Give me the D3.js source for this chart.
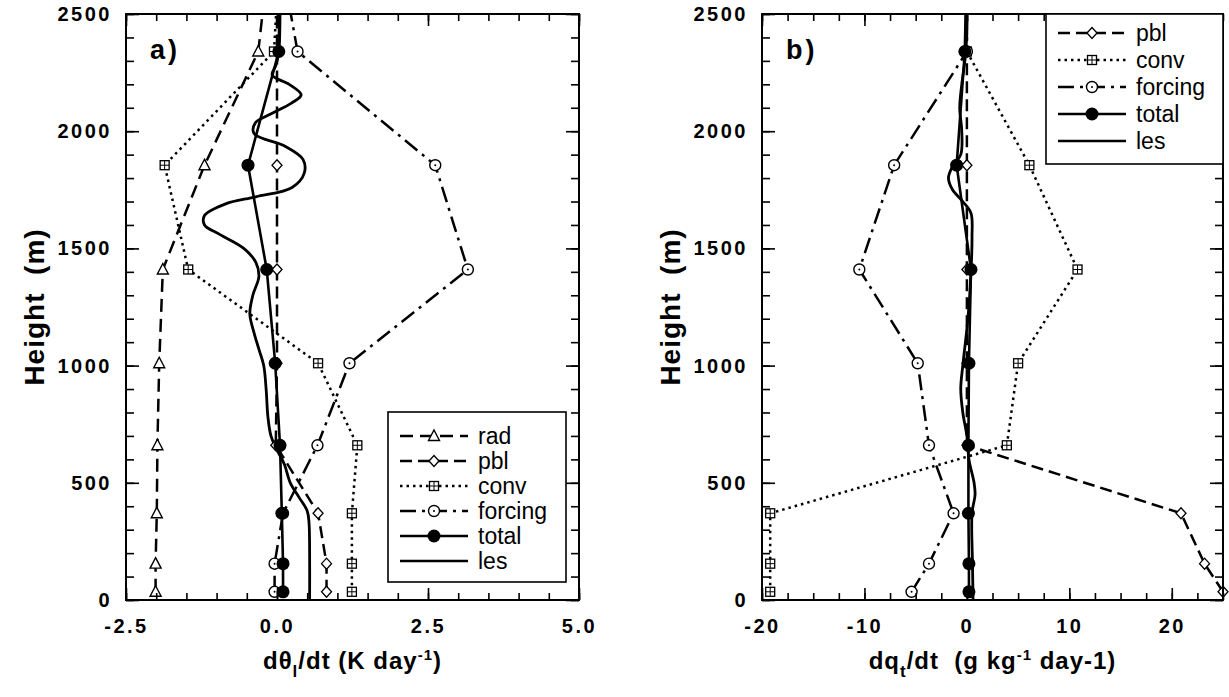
<!DOCTYPE html>
<html>
<head>
<meta charset="utf-8">
<script src="https://cdn.jsdelivr.net/npm/d3@7"></script>
<style>
    body { margin: 0; background: #fff; }
    svg { font-family: "Liberation Sans", Arial, sans-serif; }
</style>
</head>
<body>
<svg id="chart" width="1229" height="697"></svg>
<script>
// model levels (m) where markers sit; the last one is above the plot top so lines run off the frame
const levels = [35, 155, 370, 660, 1010, 1410, 1855, 2340, 2800]

// panel a: dθl/dt (K day-1)
const radA = [-2.01, -2.01, -1.99, -1.98, -1.95, -1.89, -1.20, -0.31, -0.11]
const pblA = [0.82, 0.82, 0.68, -0.02, 0.0, 0.0, 0.0, 0.0, 0.0]
const convA = [1.24, 1.24, 1.24, 1.33, 0.68, -1.47, -1.86, -0.05, 0.05]
const forcingA = [-0.04, -0.04, 0.10, 0.67, 1.20, 3.16, 2.62, 0.34, 0.02]
const totalA = [0.10, 0.10, 0.08, 0.05, -0.03, -0.17, -0.48, 0.03, 0.05]

const lesHeightsA = [0, 200, 330, 380, 440, 500, 580, 650, 700, 780, 900, 1000, 1070, 1140, 1220, 1300, 1380, 1440, 1500, 1560, 1600, 1640, 1690, 1720, 1760, 1820, 1880, 1935, 1990, 2035, 2070, 2120, 2155, 2200, 2240, 2280, 2340, 2500, 2800]
const lesA = [0.54, 0.54, 0.53, 0.50, 0.36, 0.22, 0.12, -0.02, -0.10, -0.15, -0.18, -0.22, -0.30, -0.38, -0.45, -0.40, -0.30, -0.35, -0.55, -0.95, -1.20, -1.20, -0.85, -0.35, 0.25, 0.45, 0.43, 0.14, -0.38, -0.36, -0.13, 0.24, 0.40, 0.20, -0.08, -0.02, 0.03, 0.05, 0.05]

// panel b: dqt/dt (g kg-1 day-1)
const pblB = [25.0, 23.2, 20.9, 0.0, 0.0, 0.0, 0.0, 0.0, 0.0]
const convB = [-19.2, -19.2, -19.2, 3.9, 5.0, 10.8, 6.1, 0.0, 0.0]
const forcingB = [-5.4, -3.7, -1.3, -3.7, -4.8, -10.5, -7.1, 0.0, 0.0]
const totalB = [0.2, 0.2, 0.15, 0.15, 0.2, 0.4, -1.0, -0.2, 0.0]

const lesHeightsB = [0, 150, 370, 450, 500, 600, 700, 800, 900, 1000, 1200, 1400, 1550, 1650, 1700, 1750, 1800, 1850, 1900, 2000, 2100, 2200, 2340, 2500, 2800]
const lesB = [0.6, 0.55, 0.5, 0.8, 0.7, 0.2, 0.0, -0.4, -0.6, -0.4, 0.1, 0.4, 0.5, 0.4, -0.4, -1.4, -1.8, -1.4, -0.6, -0.5, -0.7, -0.5, -0.1, 0.0, 0.0]

// axis ticks
const yMajor = [0, 500, 1000, 1500, 2000, 2500]
const yMinor = d3.range(0, 2501, 100)
const xMajorA = [-2.5, 0, 2.5, 5]
const xMinorA = d3.range(-2.5, 5.01, 0.5)
const xMajorB = [-20, -10, 0, 10, 20]
const xMinorB = d3.range(-20, 25.01, 2.5)

const styles = {
    rad: { dash: "13,7", marker: "triangle" },
    pbl: { dash: "12,6", marker: "diamond" },
    conv: { dash: "2.5,4", marker: "square" },
    forcing: { dash: "16,6,3,6", marker: "circle" },
    total: { dash: null, marker: "dot" },
    les: { dash: null, marker: null }
}

const svg = d3.select("#chart")

// plain hyphen for negatives, like the original figure
function hyphen(fmt) {
    return d => fmt(d).replace("\u2212", "-")
}

function drawMarker(g, type, cx, cy) {
    if (type === "triangle") {
        g.append("path").attr("d", `M${cx},${cy - 6}L${cx + 5.5},${cy + 4.5}L${cx - 5.5},${cy + 4.5}Z`)
            .attr("fill", "#fff").attr("stroke", "#000").attr("stroke-width", 1.4)
    } else if (type === "diamond") {
        g.append("path").attr("d", `M${cx},${cy - 5.5}L${cx + 5},${cy}L${cx},${cy + 5.5}L${cx - 5},${cy}Z`)
            .attr("fill", "#fff").attr("stroke", "#000").attr("stroke-width", 1.3)
    } else if (type === "square") {
        g.append("rect").attr("x", cx - 4.5).attr("y", cy - 4.5).attr("width", 9).attr("height", 9)
            .attr("fill", "#fff").attr("stroke", "#000").attr("stroke-width", 1.3)
        g.append("path").attr("d", `M${cx - 4.5},${cy}H${cx + 4.5}M${cx},${cy - 4.5}V${cy + 4.5}`)
            .attr("stroke", "#000").attr("stroke-width", 1)
    } else if (type === "circle") {
        g.append("circle").attr("cx", cx).attr("cy", cy).attr("r", 5.5)
            .attr("fill", "#fff").attr("stroke", "#000").attr("stroke-width", 1.4)
        g.append("circle").attr("cx", cx).attr("cy", cy).attr("r", 1).attr("fill", "#000")
    } else if (type === "dot") {
        g.append("circle").attr("cx", cx).attr("cy", cy).attr("r", 6.5).attr("fill", "#000")
    }
}

function drawPanel(p) {
    const x = d3.scaleLinear().domain(p.xDomain).range([p.left, p.right])
    const y = d3.scaleLinear().domain([0, 2500]).range([p.bottom, p.top])
    const w = p.right - p.left, h = p.bottom - p.top

    svg.append("clipPath").attr("id", p.id + "clip")
        .append("rect").attr("x", p.left - 12).attr("y", p.top).attr("width", w + 24).attr("height", h + 12)

    const plot = svg.append("g").attr("clip-path", `url(#${p.id}clip)`)
    const line = d3.line().x(d => x(d[0])).y(d => y(d[1]))

    // les first, smooth curve with no markers
    plot.append("path")
        .datum(p.lesValues.map((v, i) => [v, p.lesHeights[i]]))
        .attr("d", line.curve(d3.curveCatmullRom.alpha(0.5)))
        .attr("fill", "none").attr("stroke", "#000").attr("stroke-width", 2.8)

    p.series.forEach(s => {
        const pts = s.values.map((v, i) => [v, levels[i]])
        plot.append("path")
            .datum(pts)
            .attr("d", d3.line().x(d => x(d[0])).y(d => y(d[1]))(pts))
            .attr("fill", "none").attr("stroke", "#000")
            .attr("stroke-width", s.key === "total" ? 2.6 : 2.5)
            .attr("stroke-dasharray", styles[s.key].dash)
    })
    p.series.forEach(s => {
        s.values.forEach((v, i) => drawMarker(plot, styles[s.key].marker, x(v), y(levels[i])))
    })

    // axes, ticks pointing inward on all four sides
    const axes = svg.append("g").attr("class", "axes")
    axes.append("g").attr("transform", `translate(0,${p.bottom})`)
        .call(d3.axisBottom(x).tickValues(p.xMinor).tickSize(-7).tickFormat(""))
    axes.append("g").attr("transform", `translate(0,${p.bottom})`)
        .call(d3.axisBottom(x).tickValues(p.xMajor).tickSize(-12).tickPadding(19).tickFormat(hyphen(p.xFormat)))
    axes.append("g").attr("transform", `translate(0,${p.top})`)
        .call(d3.axisTop(x).tickValues(p.xMinor).tickSize(-7).tickFormat(""))
    axes.append("g").attr("transform", `translate(0,${p.top})`)
        .call(d3.axisTop(x).tickValues(p.xMajor).tickSize(-12).tickFormat(""))
    axes.append("g").attr("transform", `translate(${p.left},0)`)
        .call(d3.axisLeft(y).tickValues(yMinor).tickSize(-8).tickFormat(""))
    axes.append("g").attr("transform", `translate(${p.left},0)`)
        .call(d3.axisLeft(y).tickValues(yMajor).tickSize(-13).tickPadding(14).tickFormat(d3.format("d")))
    axes.append("g").attr("transform", `translate(${p.right},0)`)
        .call(d3.axisRight(y).tickValues(yMinor).tickSize(-8).tickFormat(""))
    axes.append("g").attr("transform", `translate(${p.right},0)`)
        .call(d3.axisRight(y).tickValues(yMajor).tickSize(-13).tickFormat(""))

    axes.selectAll(".domain").remove()
    axes.selectAll(".tick line").attr("stroke", "#000").attr("stroke-width", 1.6)
    axes.selectAll(".tick text")
        .attr("fill", "#000")
        .style("font-family", "'Liberation Sans', Arial, sans-serif")
        .style("font-size", "20px").style("font-weight", "bold").style("letter-spacing", "2.5px")

    svg.append("rect").attr("x", p.left).attr("y", p.top).attr("width", w).attr("height", h)
        .attr("fill", "none").attr("stroke", "#000").attr("stroke-width", 2)

    svg.append("text").attr("x", p.left + 24).attr("y", p.top + 45)
        .style("font-size", "27px").style("font-weight", "bold").style("letter-spacing", "3px")
        .text(p.tag)

    // y title
    svg.append("text")
        .attr("transform", `translate(${p.left - 82},${(p.top + p.bottom) / 2}) rotate(-90)`)
        .attr("text-anchor", "middle")
        .style("font-size", "28px").style("font-weight", "bold").style("letter-spacing", "1px")
        .style("white-space", "pre")
        .text("Height  (m)")

    // x title with sub/superscripts
    const xt = svg.append("text").attr("x", (p.left + p.right) / 2).attr("y", 669)
        .attr("text-anchor", "middle")
        .style("font-size", "24px").style("font-weight", "bold").style("letter-spacing", "1px")
        .style("white-space", "pre")
    p.xTitle.forEach(part => {
        const t = xt.append("tspan").text(part.t)
        if (part.sub) t.attr("dy", 8).style("font-size", "17px")
        if (part.sup) t.attr("dy", -9).style("font-size", "15px")
        if (part.back) t.attr("dy", part.back)
    })

    // legend
    const lg = svg.append("g")
    lg.append("rect").attr("x", p.legend.x).attr("y", p.legend.y)
        .attr("width", p.legend.w).attr("height", p.legend.h)
        .attr("fill", "#fff").attr("stroke", "#000").attr("stroke-width", 1.6)
    p.legendKeys.forEach((k, i) => {
        const ly = p.legend.y + p.legend.first + i * p.legend.step
        const lx = p.legend.x + 12
        lg.append("line").attr("x1", lx).attr("x2", lx + 68).attr("y1", ly).attr("y2", ly)
            .attr("stroke", "#000").attr("stroke-width", 2.4).attr("stroke-dasharray", styles[k].dash)
        if (styles[k].marker) drawMarker(lg, styles[k].marker, lx + 34, ly)
        lg.append("text").attr("x", lx + 78).attr("y", ly + 8)
            .style("font-size", "23px").text(k)
    })
}

drawPanel({
    id: "a", tag: "a)",
    left: 126, right: 579, top: 14, bottom: 600,
    xDomain: [-2.5, 5],
    xMajor: xMajorA, xMinor: xMinorA, xFormat: d3.format(".1f"),
    series: [
        { key: "rad", values: radA },
        { key: "pbl", values: pblA },
        { key: "conv", values: convA },
        { key: "forcing", values: forcingA },
        { key: "total", values: totalA }
    ],
    lesHeights: lesHeightsA, lesValues: lesA,
    legendKeys: ["rad", "pbl", "conv", "forcing", "total", "les"],
    legend: { x: 388, y: 412, w: 178, h: 170, first: 24, step: 25 },
    xTitle: [{ t: "dθ" }, { t: "l", sub: true }, { t: "/dt (K day", back: -8 }, { t: "-1", sup: true }, { t: ")", back: 9 }]
})

drawPanel({
    id: "b", tag: "b)",
    left: 762, right: 1223, top: 14, bottom: 600,
    xDomain: [-20, 25],
    xMajor: xMajorB, xMinor: xMinorB, xFormat: d3.format("d"),
    series: [
        { key: "pbl", values: pblB },
        { key: "conv", values: convB },
        { key: "forcing", values: forcingB },
        { key: "total", values: totalB }
    ],
    lesHeights: lesHeightsB, lesValues: lesB,
    legendKeys: ["pbl", "conv", "forcing", "total", "les"],
    legend: { x: 1046, y: 14, w: 177, h: 150, first: 19, step: 27 },
    xTitle: [{ t: "dq" }, { t: "t", sub: true }, { t: "/dt  (g kg", back: -8 }, { t: "-1", sup: true }, { t: " day-1)", back: 9 }]
})
</script>
</body>
</html>
